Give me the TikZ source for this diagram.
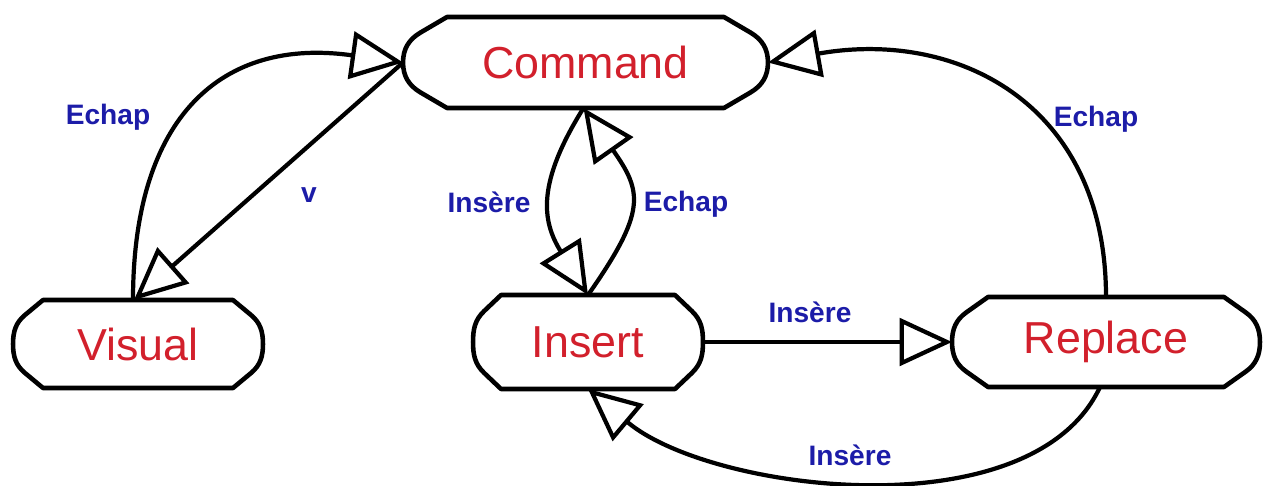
\documentclass[tikz,border=0pt]{standalone}
\usepackage{fontspec}
\setmainfont{Liberation Sans}
\usetikzlibrary{arrows.meta,calc}
\definecolor{statered}{RGB}{210,32,44}
\definecolor{labelblue}{RGB}{28,28,168}

% Outline of a state: flat top and bottom, ends made of a short
% straight chamfer running into a rounded point.
% #1 node name, #2 end width, #3 height (both in picture units)
\newcommand\stateoutline[3]{%
  \pgfmathsetmacro\chamferangle{atan2(0.17*#3,0.6*#2)}%
  \draw[outline] ($(#1.north west)+(#2,0)$) -- ($(#1.north east)+(-#2,0)$)
    -- ++({0.6*#2},{-0.17*#3})
    to[out=-\chamferangle,in=90] ++({0.4*#2},{-0.33*#3})
    to[out=-90,in=\chamferangle] ++({-0.4*#2},{-0.33*#3})
    -- ++({-0.6*#2},{-0.17*#3})
    -- ($(#1.south west)+(#2,0)$)
    -- ++({-0.6*#2},{0.17*#3})
    to[out=180-\chamferangle,in=-90] ++({-0.4*#2},{0.33*#3})
    to[out=90,in=\chamferangle-180] ++({0.4*#2},{0.33*#3})
    -- cycle;
}

\begin{document}
\begin{tikzpicture}[x=0.02cm,y=0.02cm,
  state/.style={inner sep=0pt, outer sep=0pt, text=statered,
    font=\fontsize{25.5}{30}\selectfont},
  outline/.style={line width=2.6pt, line join=round},
  trans/.style={line width=2.4pt,
    -{Triangle[open,length=1.05cm,width=0.95cm]}},
  lbl/.style={text=labelblue, inner sep=1pt,
    font=\fontsize{16}{19}\selectfont\bfseries}]

\useasboundingbox (0,0) rectangle (1267,485);

% states
\node[state, minimum width=7.3cm,  minimum height=1.82cm] (cmd) at (585.5,422.5) {Command};
\node[state, minimum width=5cm,    minimum height=1.76cm] (vis) at (138,141) {Visual};
\node[state, minimum width=4.6cm,  minimum height=1.88cm] (ins) at (588,143) {Insert};
\node[state, minimum width=6.16cm, minimum height=1.8cm]  (rep) at (1106,143) {Replace};

\stateoutline{cmd}{44}{91}
\stateoutline{vis}{30}{88}
\stateoutline{ins}{28}{94}
\stateoutline{rep}{36}{90}

% transitions
\draw[trans] (cmd.west) -- ($(vis.north)+(-4,0)$);
\draw[trans] ($(vis.north)+(-5,0)$) to[out=90,in=172,looseness=1.3] (cmd.west);
\draw[trans] ($(cmd.south)+(-2,0)$) to[out=238,in=122,looseness=1.2] (ins.north);
\draw[trans] (ins.north) to[out=55,in=-55,looseness=1.4] ($(cmd.south)+(-2,0)$);
\draw[trans] (ins.east) -- (rep.west);
\draw[trans] (rep.north) to[out=90,in=10,looseness=1.2] (cmd.east);
\draw[trans] ($(rep.south)+(-6,0)$) to[out=245,in=-40,looseness=0.8] (ins.south);

% transition labels
\node[lbl] (l1) at (108,368) {Echap};
\node[lbl] (l2) at (309,290) {v};
\node[lbl] (l3) at (489,283) {Insère};
\node[lbl] (l4) at (686,281) {Echap};
\node[lbl] (l5) at (1096,366) {Echap};
\node[lbl] (l6) at (810,173) {Insère};
\node[lbl] (l7) at (850,30) {Insère};
\end{tikzpicture}
\end{document}
